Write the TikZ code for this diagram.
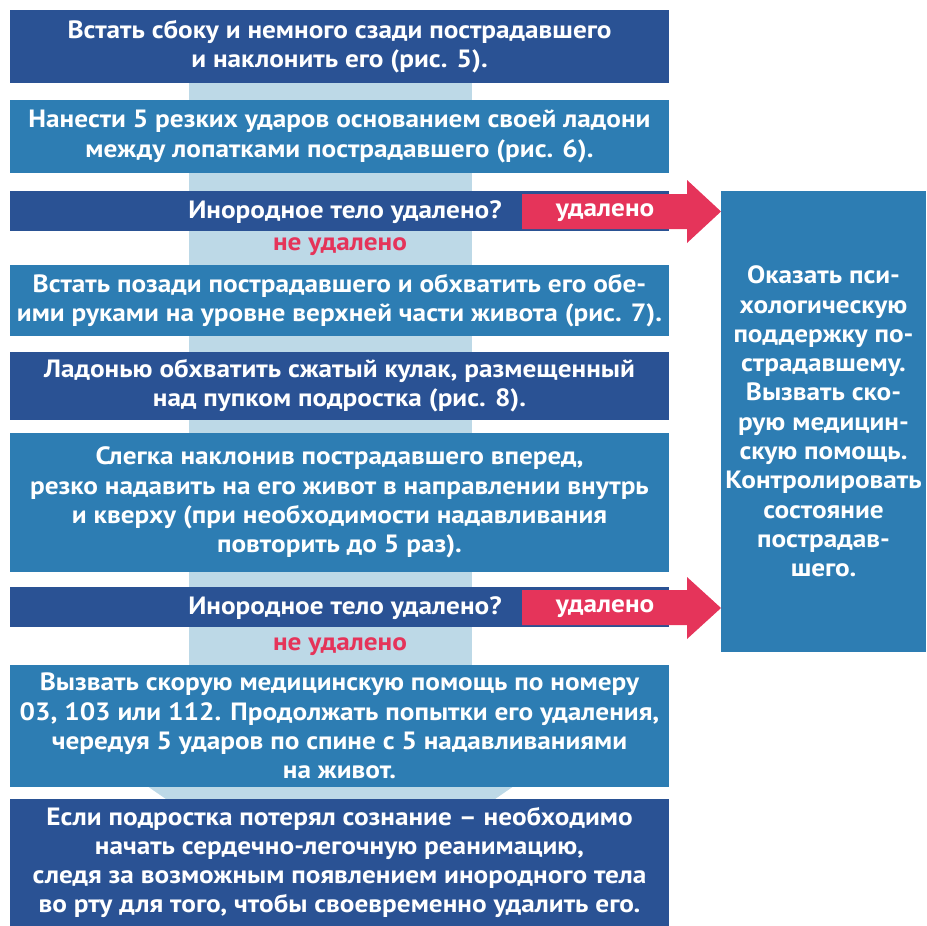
\documentclass[tikz,border=0pt]{standalone}
\usepackage{fontspec}
\setmainfont{PT Sans}[FakeStretch=1.09]
\definecolor{dkblue}{HTML}{2A5294}
\definecolor{mdblue}{HTML}{2D7DB3}
\definecolor{band}{HTML}{BDD9E7}
\definecolor{redc}{HTML}{E5345A}
\begin{document}
\begin{tikzpicture}[x=1pt,y=-1pt,
  box/.style={rectangle, inner sep=0pt, minimum width=659pt, align=center, text=white,
    font=\fontsize{25}{29.3}\selectfont\bfseries},
  dk/.style={box, fill=dkblue},
  md/.style={box, fill=mdblue},
  lbl/.style={inner sep=0pt, font=\fontsize{25}{29.3}\selectfont\bfseries},
]
\useasboundingbox (0,0) rectangle (926,926);
% background band with arrow head
\fill[band] (189,83) rectangle (472,790);
\fill[band] (124,770) -- (537,770) -- (330.5,913) -- cycle;

\node[dk, minimum height=73pt] (b1) at (339.5,46.5) {Встать сбоку и немного сзади пострадавшего\\и наклонить его (рис. 5).};
\node[md, minimum height=73pt] (b2) at (339.5,136.5) {Нанести 5 резких ударов основанием своей ладони\\между лопатками пострадавшего (рис. 6).};
\node[dk, minimum height=40pt] (q1) at (339.5,211) {};
\node[lbl, text=white] (q1t) at (345,212) {Инородное тело удалено?};
\node[lbl, text=redc] (n1) at (340,246.5) {не удалено};
\node[md, minimum height=71pt] (b4) at (339.5,300.5) {Встать позади пострадавшего и обхватить его обе-\\ими руками на уровне верхней части живота (рис. 7).};
\node[dk, minimum height=68pt] (b5) at (339.5,386) {Ладонью обхватить сжатый кулак, размещенный\\над пупком подростка (рис. 8).};
\node[md, minimum height=139pt] (b6) at (339.5,502.5) {Слегка наклонив пострадавшего вперед,\\резко надавить на его живот в направлении внутрь\\и кверху (при необходимости надавливания\\повторить до 5 раз).};
\node[dk, minimum height=40pt] (q2) at (339.5,607) {};
\node[lbl, text=white] (q2t) at (345,608) {Инородное тело удалено?};
\node[lbl, text=redc] (n2) at (340,646.5) {не удалено};
\node[md, minimum height=122pt] (b8) at (339.5,726) {Вызвать скорую медицинскую помощь по номеру\\03, 103 или 112. Продолжать попытки его удаления,\\чередуя 5 ударов по спине с 5 надавливаниями\\на живот.};
\node[dk, minimum height=127pt] (b9) at (339.5,862.5) {Если подростка потерял сознание – необходимо\\начать сердечно-легочную реанимацию,\\следя за возможным появлением инородного тела\\во рту для того, чтобы своевременно удалить его.};

\node[box, fill=mdblue, minimum width=205pt, minimum height=461pt] (r) at (823.5,421.5) {Оказать пси-\\хологическую\\поддержку по-\\страдавшему.\\Вызвать ско-\\рую медицин-\\скую помощь.\\Контролировать\\состояние\\пострадав-\\шего.};

% red arrows
\fill[redc] (522,194) -- (687,194) -- (687,180) -- (721,211.5) -- (687,243) -- (687,229) -- (522,229) -- cycle;
\node[lbl, text=white] (y1) at (605,213) {удалено};
\fill[redc] (522,590) -- (687,590) -- (687,577) -- (721,608) -- (687,639) -- (687,625) -- (522,625) -- cycle;
\node[lbl, text=white] (y2) at (605,609) {удалено};
\end{tikzpicture}
\end{document}
